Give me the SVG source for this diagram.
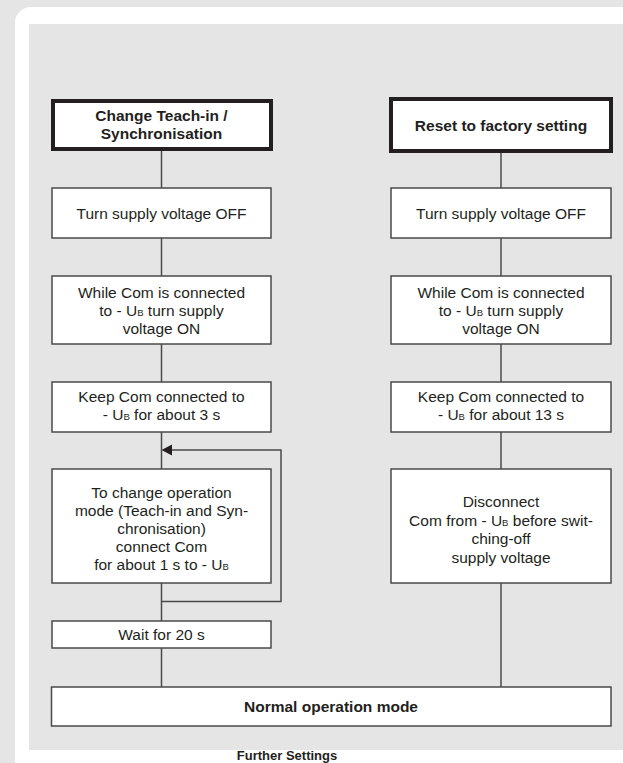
<svg xmlns="http://www.w3.org/2000/svg" width="623" height="763" viewBox="0 0 623 763">
<style>
  .box{fill:#ffffff;stroke:#4a4a4a;stroke-width:1.5}
  .title{fill:#ffffff;stroke:#231f20;stroke-width:4}
  .conn{fill:none;stroke:#4a4a4a;stroke-width:1.5}
  text{font-family:"Liberation Sans","Arial",sans-serif;font-size:15.5px;fill:#231f20;text-anchor:middle}
  .b{font-weight:bold}
  .sub{font-size:9.5px}
</style>
<rect x="0" y="0" width="623" height="763" fill="#e5e5e5"/>
<rect x="15" y="7" width="640" height="800" rx="16" fill="#ffffff"/>
<rect x="29" y="24" width="600" height="726" fill="#e5e5e5"/>

<g id="connectors">
  <line class="conn" x1="161.5" y1="151" x2="161.5" y2="188"/>
  <line class="conn" x1="161.5" y1="238" x2="161.5" y2="276"/>
  <line class="conn" x1="161.5" y1="344" x2="161.5" y2="382"/>
  <line class="conn" x1="161.5" y1="432" x2="161.5" y2="469"/>
  <line class="conn" x1="161.5" y1="583" x2="161.5" y2="621"/>
  <line class="conn" x1="161.5" y1="648" x2="161.5" y2="687"/>
  <path class="conn" d="M161.5,601.5 H281 V450 H172"/>
  <path d="M161.5,450 L172,444.5 L172,455.5 Z" fill="#231f20"/>
  <line class="conn" x1="501" y1="153" x2="501" y2="188"/>
  <line class="conn" x1="501" y1="238" x2="501" y2="276"/>
  <line class="conn" x1="501" y1="344" x2="501" y2="382"/>
  <line class="conn" x1="501" y1="432" x2="501" y2="469"/>
  <line class="conn" x1="501" y1="583" x2="501" y2="687"/>
</g>

<g id="title-left">
  <rect class="title" x="53" y="101" width="218" height="48"/>
  <text class="b" x="161.5" y="120.5">Change Teach-in /</text>
  <text class="b" x="161.5" y="138.5">Synchronisation</text>
</g>
<g id="turn-left">
  <rect class="box" x="52" y="188" width="219" height="50"/>
  <text x="161.5" y="218.5">Turn supply voltage OFF</text>
</g>
<g id="while-left">
  <rect class="box" x="52" y="276" width="219" height="68"/>
  <text x="161.5" y="297.5">While Com is connected</text>
  <text x="161.5" y="315.5">to - U<tspan class="sub">B</tspan> turn supply</text>
  <text x="161.5" y="333.5">voltage ON</text>
</g>
<g id="keep-left">
  <rect class="box" x="52" y="382" width="219" height="50"/>
  <text x="161.5" y="402">Keep Com connected to</text>
  <text x="161.5" y="419.5">- U<tspan class="sub">B</tspan> for about 3 s</text>
</g>
<g id="change-left">
  <rect class="box" x="52" y="469" width="219" height="114"/>
  <text x="161.5" y="498">To change operation</text>
  <text x="161.5" y="515.5">mode (Teach-in and Syn-</text>
  <text x="161.5" y="533.5">chronisation)</text>
  <text x="161.5" y="551.5">connect Com</text>
  <text x="161.5" y="570">for about 1 s to - U<tspan class="sub">B</tspan></text>
</g>
<g id="wait-left">
  <rect class="box" x="52" y="621" width="219" height="27"/>
  <text x="161.5" y="640">Wait for 20 s</text>
</g>

<g id="title-right">
  <rect class="title" x="391" y="99" width="220" height="52"/>
  <text class="b" x="501" y="130.5">Reset to factory setting</text>
</g>
<g id="turn-right">
  <rect class="box" x="391" y="188" width="220" height="50"/>
  <text x="501" y="218.5">Turn supply voltage OFF</text>
</g>
<g id="while-right">
  <rect class="box" x="391" y="276" width="220" height="68"/>
  <text x="501" y="297.5">While Com is connected</text>
  <text x="501" y="315.5">to - U<tspan class="sub">B</tspan> turn supply</text>
  <text x="501" y="333.5">voltage ON</text>
</g>
<g id="keep-right">
  <rect class="box" x="391" y="382" width="220" height="50"/>
  <text x="501" y="402">Keep Com connected to</text>
  <text x="501" y="419.5">- U<tspan class="sub">B</tspan> for about 13 s</text>
</g>
<g id="disconnect-right">
  <rect class="box" x="391" y="469" width="220" height="114"/>
  <text x="501" y="507">Disconnect</text>
  <text x="501" y="525.5">Com from - U<tspan class="sub">B</tspan> before swit-</text>
  <text x="501" y="544">ching-off</text>
  <text x="501" y="562.5">supply voltage</text>
</g>

<g id="normal">
  <rect class="box" x="51.5" y="687" width="559.5" height="39"/>
  <text class="b" x="331" y="712">Normal operation mode</text>
</g>

<text class="b" x="287" y="760" style="font-size:13px">Further Settings</text>
</svg>
